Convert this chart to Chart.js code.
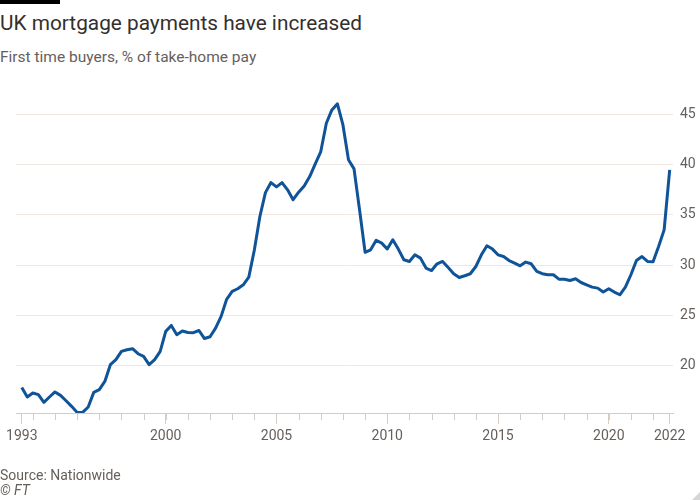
<!DOCTYPE html>
<html>
<head>
<meta charset="utf-8">
<script src="https://cdn.jsdelivr.net/npm/chart.js@4.4.0/dist/chart.umd.min.js"></script>
<style>
  html, body { margin: 0; padding: 0; background: #fff; }
  #wrap { position: relative; width: 700px; height: 500px; overflow: hidden; font-family: Roboto, sans-serif; }
  #bar { position: absolute; left: 0; top: 0; width: 60px; height: 4px; background: #000; }
  #title { position: absolute; left: 0; top: 10px; font-size: 20.8px; line-height: 26px; color: #33302e; white-space: nowrap; }
  #subtitle { position: absolute; left: 0; top: 47px; font-size: 15.5px; line-height: 20px; color: #66605c; white-space: nowrap; }
  #source { position: absolute; left: 0; top: 467px; font-size: 14px; line-height: 16px; color: #66605c; }
  #ft { position: absolute; left: 0; top: 482px; font-size: 14px; line-height: 16px; color: #66605c; font-style: italic; }
  #corner { position: absolute; right: 0; bottom: 0; width: 0; height: 0; border-left: 8px solid transparent; border-bottom: 8px solid #d6d6d6; }
  canvas { position: absolute; left: 0; top: 0; }
</style>
</head>
<body>
<div id="wrap">
  <div id="bar"></div>
  <div id="title">UK mortgage payments have increased</div>
  <div id="subtitle">First time buyers, % of take-home pay</div>
  <canvas id="chart" width="700" height="500"></canvas>
  <div id="source">Source: Nationwide</div>
  <div id="ft">© FT</div>
  <div id="corner"></div>
</div>
<script>
// ===== DATA (quarterly, from 1993 Q3) =====
const START_YEAR = 1993;
const START_QUARTER = 3;

const payments = [
  17.84, 16.89,
  17.29, 17.12, 16.36, 16.89,   // 1994
  17.39, 17.05, 16.52, 15.96,   // 1995
  15.36, 15.36, 15.90, 17.35,   // 1996
  17.62, 18.44, 20.10, 20.60,   // 1997
  21.42, 21.59, 21.69, 21.19,   // 1998
  20.92, 20.10, 20.60, 21.42,   // 1999
  23.41, 24.00, 23.08, 23.45,   // 2000
  23.30, 23.28, 23.50, 22.70,   // 2001
  22.88, 23.74, 24.90, 26.60,   // 2002
  27.38, 27.65, 28.04, 28.80,   // 2003
  31.50, 34.83, 37.20, 38.20,   // 2004
  37.77, 38.20, 37.48, 36.50,   // 2005
  37.25, 37.87, 38.80, 40.06,   // 2006
  41.28, 44.10, 45.42, 46.02,   // 2007
  43.93, 40.46, 39.56, 35.49,   // 2008
  31.27, 31.52, 32.47, 32.18,   // 2009
  31.60, 32.51, 31.59, 30.53,   // 2010
  30.36, 31.02, 30.69, 29.70,   // 2011
  29.46, 30.13, 30.36, 29.76,   // 2012
  29.14, 28.77, 28.94, 29.14,   // 2013
  29.86, 31.02, 31.92, 31.59,   // 2014
  31.02, 30.85, 30.45, 30.20,   // 2015
  29.93, 30.30, 30.13, 29.37,   // 2016
  29.14, 29.04, 29.04, 28.60,   // 2017
  28.60, 28.47, 28.64, 28.27,   // 2018
  28.04, 27.81, 27.71, 27.32,   // 2019
  27.65, 27.32, 27.05, 27.81,   // 2020
  29.04, 30.46, 30.85, 30.36,   // 2021
  30.33, 31.85, 33.50, 39.46    // 2022
];

const MAJOR_YEARS = [2000, 2005, 2010, 2015, 2020];
const FIRST_LABEL = '1993';
const LAST_LABEL = '2022';
const Y_TICKS = [20, 25, 30, 35, 40, 45];

// ===== POINTS =====
const points = payments.map((v, i) => ({
  x: START_YEAR + (START_QUARTER - 1) / 4 + i / 4,
  y: v
}));
const firstX = points[0].x;
const lastX = points[points.length - 1].x;

const AXIS_COLOR = '#d7ccc2';
const GRID_COLOR = '#efe8e2';
const TEXT_COLOR = '#66605c';

// small year ticks under the axis
const minorTicks = {
  id: 'minorTicks',
  beforeDatasetsDraw(chart) {
    const { ctx, chartArea, scales: { x } } = chart;
    ctx.save();
    ctx.strokeStyle = AXIS_COLOR;
    ctx.lineWidth = 1;
    for (let yr = Math.ceil(firstX); yr <= Math.floor(lastX); yr++) {
      const px = Math.round(x.getPixelForValue(yr)) + 0.5;
      ctx.beginPath();
      ctx.moveTo(px, chartArea.bottom);
      ctx.lineTo(px, chartArea.bottom + 7);
      ctx.stroke();
    }
    ctx.restore();
  }
};

// ===== CHART =====
new Chart(document.getElementById('chart'), {
  type: 'line',
  data: {
    datasets: [{
      data: points,
      borderColor: '#0f5499',
      borderWidth: 3,
      pointRadius: 0,
      tension: 0,
      borderJoinStyle: 'round',
      borderCapStyle: 'butt'
    }]
  },
  options: {
    responsive: false,
    animation: false,
    layout: { padding: { left: 16, top: 90, right: 0, bottom: 0 } },
    plugins: { legend: { display: false }, tooltip: { enabled: false } },
    scales: {
      x: {
        type: 'linear',
        min: 1993.24,
        max: 2022.9,
        afterBuildTicks: s => {
          s.ticks = [firstX, ...MAJOR_YEARS, lastX].map(v => ({ value: v }));
        },
        afterFit: s => { s.height = 87; },
        grid: { drawOnChartArea: false, drawTicks: true, tickLength: 11, tickColor: AXIS_COLOR },
        border: { display: true, color: AXIS_COLOR },
        ticks: {
          autoSkip: false,
          maxRotation: 0,
          padding: 4,
          color: TEXT_COLOR,
          font: { family: 'Roboto', size: 14 },
          callback: v => v === firstX ? FIRST_LABEL : v === lastX ? LAST_LABEL : String(v)
        }
      },
      y: {
        position: 'right',
        min: 15.3,
        max: 47.4,
        afterBuildTicks: s => { s.ticks = Y_TICKS.map(v => ({ value: v })); },
        afterFit: s => { s.width = 27; },
        grid: { color: GRID_COLOR, drawTicks: false },
        border: { display: false },
        ticks: {
          padding: 7,
          color: TEXT_COLOR,
          font: { family: 'Roboto', size: 14 }
        }
      }
    }
  },
  plugins: [minorTicks]
});
</script>
</body>
</html>
